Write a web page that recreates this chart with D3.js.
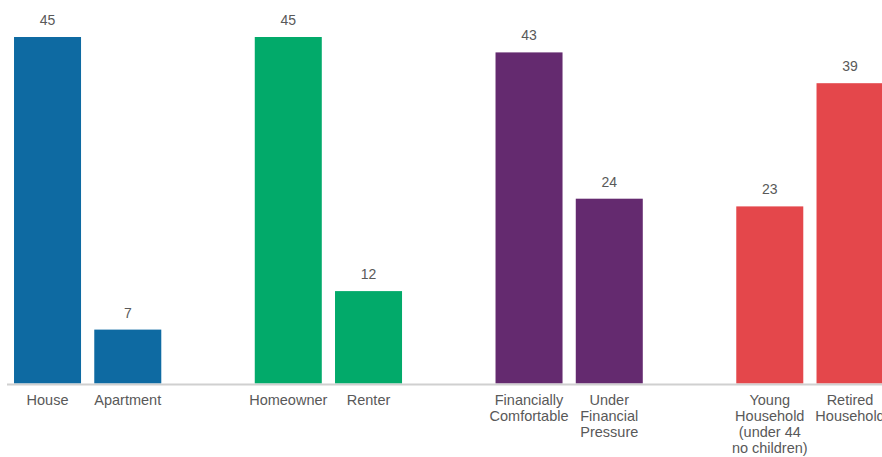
<!DOCTYPE html>
<html>
<head>
<meta charset="utf-8">
<script src="https://cdn.jsdelivr.net/npm/d3@7"></script>
<style>
  body { margin: 0; background: #fff; }
  text { font-family: "Liberation Sans", Arial, sans-serif; fill: #595959; }
</style>
</head>
<body>
<svg id="chart"></svg>
<script>
let width = 882,
    height = 457;

// data
let groups = ['dwelling', 'tenure', 'finances', 'lifestage'];
let categories = [
    ['House', 'Apartment'],
    ['Homeowner', 'Renter'],
    ['Financially|Comfortable', 'Under|Financial|Pressure'],
    ['Young|Household|(under 44|no children)', 'Retired|Household']
];
let values = [
    [45, 7],
    [45, 12],
    [43, 24],
    [23, 39]
];
let colors = ['#0e6aa2', '#02aa6a', '#642a6f', '#e4474b'];

// flatten, leaving an empty slot after each group
let bars = [];
let domain = [];
groups.forEach((g, gi) => {
    categories[gi].forEach((c, ci) => {
        let key = g + '-' + ci;
        domain.push(key);
        bars.push({key: key, label: c, value: values[gi][ci], color: colors[gi]});
    });
    if (gi < groups.length - 1) domain.push(g + '-gap');
});

let svg = d3.select('svg#chart')
    .attr('width', width)
    .attr('height', height);

let x = d3.scaleBand()
    .domain(domain)
    .range([7.4, 7.4 + 11 * 80.25])
    .paddingInner(0.165)
    .paddingOuter(0.0825);

let y = d3.scaleLinear()
    .domain([0, 45])
    .range([383.5, 37]);

svg.selectAll('rect.bar')
    .data(bars)
    .join('rect')
    .attr('class', 'bar')
    .attr('x', d => x(d.key))
    .attr('y', d => y(d.value))
    .attr('width', x.bandwidth())
    .attr('height', d => y(0) - y(d.value))
    .attr('fill', d => d.color);

svg.append('line')
    .attr('x1', 7)
    .attr('x2', width)
    .attr('y1', 384.5)
    .attr('y2', 384.5)
    .attr('stroke', '#d0d0d0')
    .attr('stroke-width', 2);

svg.selectAll('text.value')
    .data(bars)
    .join('text')
    .attr('class', 'value')
    .attr('x', d => x(d.key) + x.bandwidth() / 2)
    .attr('y', d => y(d.value) - 12)
    .attr('text-anchor', 'middle')
    .style('font-size', '14px')
    .text(d => d.value);

let labels = svg.selectAll('text.label')
    .data(bars)
    .join('text')
    .attr('class', 'label')
    .attr('text-anchor', 'middle')
    .style('font-size', '14.5px');

labels.selectAll('tspan')
    .data(d => d.label.split('|').map((t, i) => ({t: t, i: i, cx: x(d.key) + x.bandwidth() / 2})))
    .join('tspan')
    .attr('x', d => d.cx)
    .attr('y', d => 405 + d.i * 16)
    .text(d => d.t);
</script>
</body>
</html>
